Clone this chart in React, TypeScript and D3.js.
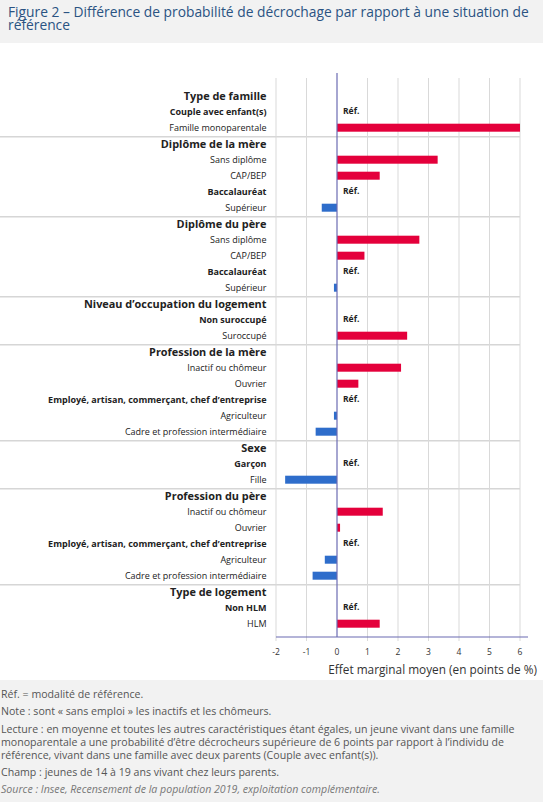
import * as d3 from "d3";

const W = 543;
const H = 802;

// row labels, top to bottom
const labels = [
  "Type de famille", "Couple avec enfant(s)", "Famille monoparentale",
  "Diplôme de la mère", "Sans diplôme", "CAP/BEP", "Baccalauréat", "Supérieur",
  "Diplôme du père", "Sans diplôme", "CAP/BEP", "Baccalauréat", "Supérieur",
  "Niveau d’occupation du logement", "Non suroccupé", "Suroccupé",
  "Profession de la mère", "Inactif ou chômeur", "Ouvrier",
  "Employé, artisan, commerçant, chef d’entreprise", "Agriculteur", "Cadre et profession intermédiaire",
  "Sexe", "Garçon", "Fille",
  "Profession du père", "Inactif ou chômeur", "Ouvrier",
  "Employé, artisan, commerçant, chef d’entreprise", "Agriculteur", "Cadre et profession intermédiaire",
  "Type de logement", "Non HLM", "HLM",
];

// h = group header, r = reference modality, v = value row
const kinds = [
  "h", "r", "v",
  "h", "v", "v", "r", "v",
  "h", "v", "v", "r", "v",
  "h", "r", "v",
  "h", "v", "v", "r", "v", "v",
  "h", "r", "v",
  "h", "v", "v", "r", "v", "v",
  "h", "r", "v",
];

// average marginal effect, in points of %
const values = [
  null, null, 6.0,
  null, 3.3, 1.4, null, -0.5,
  null, 2.7, 0.9, null, -0.1,
  null, null, 2.3,
  null, 2.1, 0.7, null, -0.1, -0.7,
  null, null, -1.7,
  null, 1.5, 0.1, null, -0.4, -0.8,
  null, null, 1.4,
];

const xTicks = [-2, -1, 0, 1, 2, 3, 4, 5, 6];

const titleLines = [
  "Figure 2 – Différence de probabilité de décrochage par rapport à une situation de",
  "référence",
];

const footLines = [
  "Réf. = modalité de référence.",
  "Note : sont « sans emploi » les inactifs et les chômeurs.",
  "Lecture : en moyenne et toutes les autres caractéristiques étant égales, un jeune vivant dans une famille",
  "monoparentale a une probabilité d’être décrocheurs supérieure de 6 points par rapport à l’individu de",
  "référence, vivant dans une famille avec deux parents (Couple avec enfant(s)).",
  "Champ : jeunes de 14 à 19 ans vivant chez leurs parents.",
  "Source : Insee, Recensement de la population 2019, exploitation complémentaire.",
];
const footY = [694, 711.5, 729, 742, 755, 772, 789.5];

const FONT = "'Open Sans', 'Noto Sans', sans-serif";
const RED = "#e4003b";
const BLUE = "#2e6dcb";
const AXIS = "#6b6bb2";

export default function App() {
  const x = d3.scaleLinear().domain([-2, 6]).range([276, 520]);
  const y = d3.scalePoint<number>().domain(d3.range(labels.length)).range([95.7, 623.7]);
  const barH = 8;
  const labelX = 266.5;
  const axisY = 637;

  const headerIdx = kinds.map((k, i) => (k === "h" && i > 0 ? i : -1)).filter((i) => i > 0);

  return (
    <svg
      width={W}
      height={H}
      style={{ position: "absolute", left: 0, top: 0, fontFamily: FONT }}
    >
      <rect x={0} y={0} width={W} height={H} fill="#fff" />

      {/* title band */}
      <rect x={0} y={0} width={W} height={43} fill="#f2f2f2" />
      {titleLines.map((t, i) => (
        <text key={i} x={8} y={17 + i * 13} fontSize={13.8} fill="#2a5382">
          {t}
        </text>
      ))}

      {/* group separators */}
      {headerIdx.map((i) => (
        <line
          key={i}
          x1={0}
          x2={x(6)}
          y1={y(i)! - 7}
          y2={y(i)! - 7}
          stroke="#d6d6d6"
          strokeWidth={1.5}
        />
      ))}

      {/* grid */}
      {xTicks.filter((t) => t !== 0).map((t) => (
        <line key={t} x1={x(t)} x2={x(t)} y1={78} y2={axisY + 4} stroke="#d9d9d9" strokeWidth={1} />
      ))}

      {/* bars */}
      {values.map((v, i) =>
        v == null ? null : (
          <rect
            key={i}
            x={x(Math.min(0, v))}
            y={y(i)! - barH / 2}
            width={Math.abs(x(v) - x(0))}
            height={barH}
            fill={v >= 0 ? RED : BLUE}
          />
        ),
      )}

      {/* zero line and axis */}
      <line x1={x(0)} x2={x(0)} y1={73} y2={axisY} stroke={AXIS} strokeWidth={1.2} />
      <line x1={x(-2)} x2={528} y1={axisY} y2={axisY} stroke={AXIS} strokeWidth={1.2} />

      {xTicks.map((t) => (
        <text key={t} x={x(t)} y={652} dy="0.35em" textAnchor="middle" fontSize={8.5} fill="#333">
          {t}
        </text>
      ))}
      <text x={537} y={670} dy="0.35em" textAnchor="end" fontSize={11.8} fill="#333">
        Effet marginal moyen (en points de %)
      </text>

      {/* row labels */}
      {labels.map((l, i) => (
        <text
          key={i}
          x={labelX}
          y={y(i)!}
          dy="0.35em"
          textAnchor="end"
          fontSize={kinds[i] === "h" ? 10.9 : 9}
          fontWeight={kinds[i] === "v" ? 400 : 700}
          fill="#222"
        >
          {l}
        </text>
      ))}

      {/* reference marks */}
      {kinds.map((k, i) =>
        k === "r" ? (
          <text key={i} x={x(0) + 6} y={y(i)! - 1} dy="0.35em" fontSize={8.5} fontWeight={700} fill="#222">
            Réf.
          </text>
        ) : null,
      )}

      {/* notes band */}
      <rect x={0} y={680} width={W} height={H - 680} fill="#f2f2f2" />
      {footLines.map((t, i) => (
        <text
          key={i}
          x={1}
          y={footY[i]}
          dy="0.35em"
          fontSize={10.6}
          fill={i === footLines.length - 1 ? "#777" : "#555"}
          fontStyle={i === footLines.length - 1 ? "italic" : "normal"}
        >
          {t}
        </text>
      ))}
    </svg>
  );
}
